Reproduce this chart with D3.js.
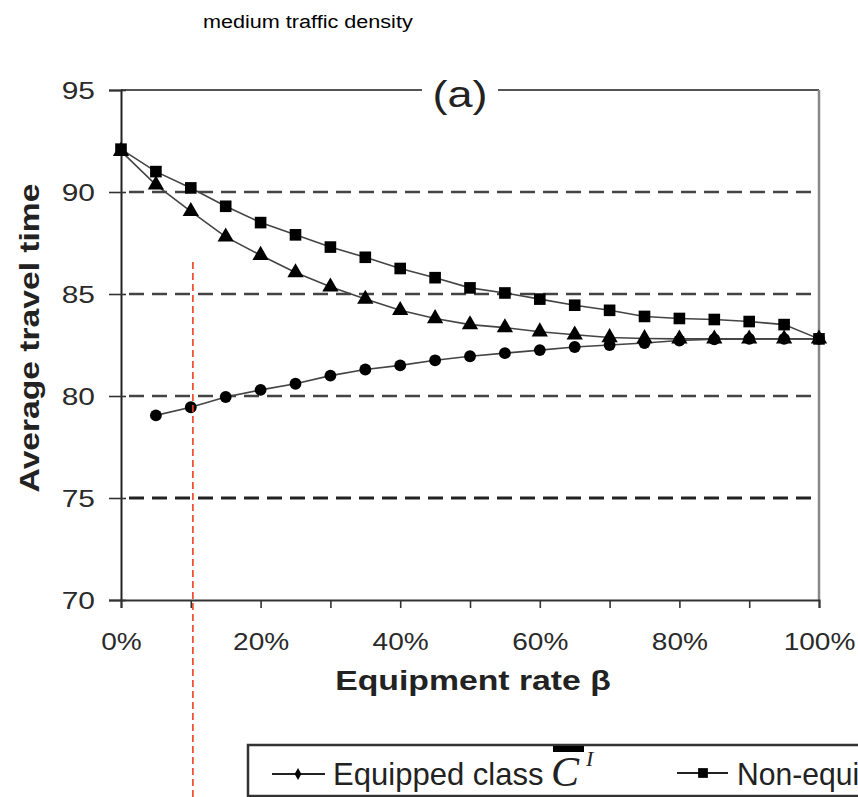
<!DOCTYPE html>
<html>
<head>
<meta charset="utf-8">
<script src="https://cdn.jsdelivr.net/npm/d3@7"></script>
<style>
  body { margin: 0; background: #fff; }
  svg { display: block; font-family: "Liberation Sans", Arial, sans-serif; }
</style>
</head>
<body>
<svg id="chart" width="858" height="797"></svg>
<script>

// ---------------- data ----------------
var rates = [0, 5, 10, 15, 20, 25, 30, 35, 40, 45, 50, 55, 60, 65, 70, 75, 80, 85, 90, 95, 100];

// squares (non-equipped class)
var nonEquipped = [92.1, 91.0, 90.2, 89.3, 88.5, 87.9, 87.3, 86.8, 86.25, 85.8, 85.3, 85.05,
                   84.75, 84.45, 84.2, 83.9, 83.8, 83.75, 83.65, 83.5, 82.8];

// triangles (all vehicles)
var average = [92.0, 90.35, 89.05, 87.8, 86.9, 86.05, 85.35, 84.75, 84.2, 83.8, 83.5, 83.35,
               83.15, 83.0, 82.87, 82.82, 82.8, 82.8, 82.8, 82.8, 82.8];

// circles (equipped class), no value at 0%
var equipped = [null, 79.05, 79.45, 79.95, 80.3, 80.6, 81.0, 81.3, 81.5, 81.75, 81.95, 82.1,
                82.25, 82.4, 82.5, 82.6, 82.72, 82.78, 82.8, 82.8, 82.8];

var yTicks = [70, 75, 80, 85, 90, 95];
var gridValues = [75, 80, 85, 90];
var xTickLabels = [0, 20, 40, 60, 80, 100];
var markerRate = 10.3;   // red dashed marker line

// ---------------- layout ----------------
var svg = d3.select("#chart");
var plotLeft = 121, plotRight = 819, plotTop = 90, plotBottom = 600;

var x = d3.scaleLinear().domain([0, 100]).range([plotLeft, plotRight]);
var y = d3.scaleLinear().domain([70, 95]).range([plotBottom, plotTop]);

// widen text horizontally like the scanned figure
function stretch(sel, k) {
  sel.each(function() {
    var w = this.getComputedTextLength();
    d3.select(this).attr("textLength", w * k).attr("lengthAdjust", "spacingAndGlyphs");
  });
}

// title
svg.append("text")
  .attr("x", 203).attr("y", 28)
  .style("font-size", "18px")
  .text("medium traffic density")
  .call(stretch, 1.2);

// dashed grid
svg.selectAll(".grid")
  .data(gridValues)
  .enter()
  .append("line")
  .attr("class", "grid")
  .attr("x1", plotLeft + 8).attr("x2", plotRight - 4)
  .attr("y1", function(d) { return y(d); })
  .attr("y2", function(d) { return y(d); })
  .attr("stroke", function(d) { return d == 75 ? "#222" : "#444"; })
  .attr("stroke-width", function(d) { return d == 75 ? 3.2 : 2.6; })
  .attr("stroke-dasharray", "15,8");

// frame: top line with gap for "(a)", right border
svg.append("line").attr("x1", plotLeft).attr("x2", 422).attr("y1", plotTop).attr("y2", plotTop)
  .attr("stroke", "#555").attr("stroke-width", 2);
svg.append("line").attr("x1", 498).attr("x2", plotRight).attr("y1", plotTop).attr("y2", plotTop)
  .attr("stroke", "#555").attr("stroke-width", 2);
svg.append("line").attr("x1", plotRight).attr("x2", plotRight).attr("y1", plotTop).attr("y2", plotBottom)
  .attr("stroke", "#888").attr("stroke-width", 2.5);

svg.append("text")
  .attr("x", 460).attr("y", 107)
  .attr("text-anchor", "middle")
  .style("font-size", "36px")
  .style("fill", "#222")
  .text("(a)")
  .call(stretch, 1.25);

// y axis
var yAxis = d3.axisLeft(y).tickValues(yTicks).tickSize(12).tickPadding(14);
var gy = svg.append("g")
  .attr("transform", "translate(" + plotLeft + ",0)")
  .call(yAxis);
gy.select(".domain").attr("stroke", "#222").attr("stroke-width", 2);
gy.selectAll(".tick line").attr("stroke", "#333").attr("stroke-width", 1.6);
gy.selectAll(".tick").append("line")
  .attr("x1", 0).attr("x2", 5).attr("stroke", "#333").attr("stroke-width", 1.6);
gy.selectAll(".tick text")
  .style("font-size", "23px")
  .style("fill", "#2a2a2a")
  .attr("dy", "0.36em")
  .call(stretch, 1.3);

// x axis
var xAxis = d3.axisBottom(x)
  .tickValues(d3.range(0, 101, 10))
  .tickSize(8)
  .tickPadding(26)
  .tickFormat(function(d) { return xTickLabels.indexOf(d) >= 0 ? d + "%" : ""; });
var gx = svg.append("g")
  .attr("transform", "translate(0," + plotBottom + ")")
  .call(xAxis);
gx.select(".domain").attr("stroke", "#333").attr("stroke-width", 2);
gx.selectAll(".tick line").attr("stroke", "#333").attr("stroke-width", 1.6);
gx.selectAll(".tick text")
  .style("font-size", "23px")
  .style("fill", "#2a2a2a")
  .attr("dy", "0.71em")
  .call(stretch, 1.22);

// axis titles
svg.append("text")
  .attr("x", 473).attr("y", 690)
  .attr("text-anchor", "middle")
  .style("font-size", "27px")
  .style("font-weight", "bold")
  .style("fill", "#222")
  .text("Equipment rate β")
  .call(stretch, 1.25);

svg.append("text")
  .attr("transform", "translate(39,338) rotate(-90)")
  .attr("text-anchor", "middle")
  .style("font-size", "28px")
  .style("font-weight", "bold")
  .style("fill", "#222")
  .text("Average travel time")
  .call(stretch, 1.2);

// series
function points(values) {
  return rates.map(function(r, i) { return {rate: r, value: values[i]}; })
    .filter(function(d) { return d.value != null; });
}

var line = d3.line()
  .x(function(d) { return x(d.rate); })
  .y(function(d) { return y(d.value); });

var series = [
  {name: "equipped", pts: points(equipped), symbol: d3.symbolCircle, size: 110},
  {name: "nonEquipped", pts: points(nonEquipped), symbol: d3.symbolSquare, size: 135},
  {name: "average", pts: points(average), symbol: d3.symbolTriangle, size: 115}
];

series.forEach(function(s) {
  svg.append("path")
    .datum(s.pts)
    .attr("d", line)
    .attr("fill", "none")
    .attr("stroke", "#444")
    .attr("stroke-width", 1.6);
});

series.forEach(function(s) {
  var sym = d3.symbol().type(s.symbol).size(s.size);
  svg.selectAll(".m-" + s.name)
    .data(s.pts)
    .enter()
    .append("path")
    .attr("class", "m-" + s.name)
    .attr("transform", function(d) { return "translate(" + x(d.rate) + "," + y(d.value) + ")"; })
    .attr("d", sym)
    .attr("fill", "#000");
});

// red dashed marker
svg.append("line")
  .attr("x1", x(markerRate)).attr("x2", x(markerRate))
  .attr("y1", 262).attr("y2", 797)
  .attr("stroke", "#f0401c")
  .attr("stroke-width", 1.6)
  .attr("stroke-dasharray", "7,4");

// legend
var legend = svg.append("g");
legend.append("rect")
  .attr("x", 248).attr("y", 745)
  .attr("width", 640).attr("height", 51)
  .attr("fill", "#fff")
  .attr("stroke", "#333")
  .attr("stroke-width", 2.5);

legend.append("line").attr("x1", 272).attr("x2", 325).attr("y1", 774).attr("y2", 774)
  .attr("stroke", "#222").attr("stroke-width", 1.8);
legend.append("path")
  .attr("transform", "translate(298,774)")
  .attr("d", d3.symbol().type(d3.symbolDiamond).size(40))
  .attr("fill", "#000");
legend.append("text")
  .attr("x", 333).attr("y", 785)
  .style("font-size", "32px")
  .style("fill", "#222")
  .text("Equipped class")
  .call(stretch, 0.97);

legend.append("rect")
  .attr("x", 553).attr("y", 746).attr("width", 31).attr("height", 6).attr("fill", "#000");
legend.append("text")
  .attr("x", 551).attr("y", 786)
  .style("font-family", "'Liberation Serif', 'DejaVu Serif', serif")
  .style("font-style", "italic")
  .style("font-size", "42px")
  .style("fill", "#222")
  .text("C");
legend.append("text")
  .attr("x", 586).attr("y", 766)
  .style("font-family", "'Liberation Serif', 'DejaVu Serif', serif")
  .style("font-style", "italic")
  .style("font-size", "22px")
  .style("fill", "#222")
  .text("I");

legend.append("line").attr("x1", 677).attr("x2", 728).attr("y1", 773).attr("y2", 773)
  .attr("stroke", "#222").attr("stroke-width", 1.8);
legend.append("path")
  .attr("transform", "translate(703,773)")
  .attr("d", d3.symbol().type(d3.symbolSquare).size(95))
  .attr("fill", "#000");
legend.append("text")
  .attr("x", 737).attr("y", 785)
  .style("font-size", "32px")
  .style("fill", "#222")
  .text("Non-equipped class")
  .call(stretch, 0.94);

</script>
</body>
</html>
